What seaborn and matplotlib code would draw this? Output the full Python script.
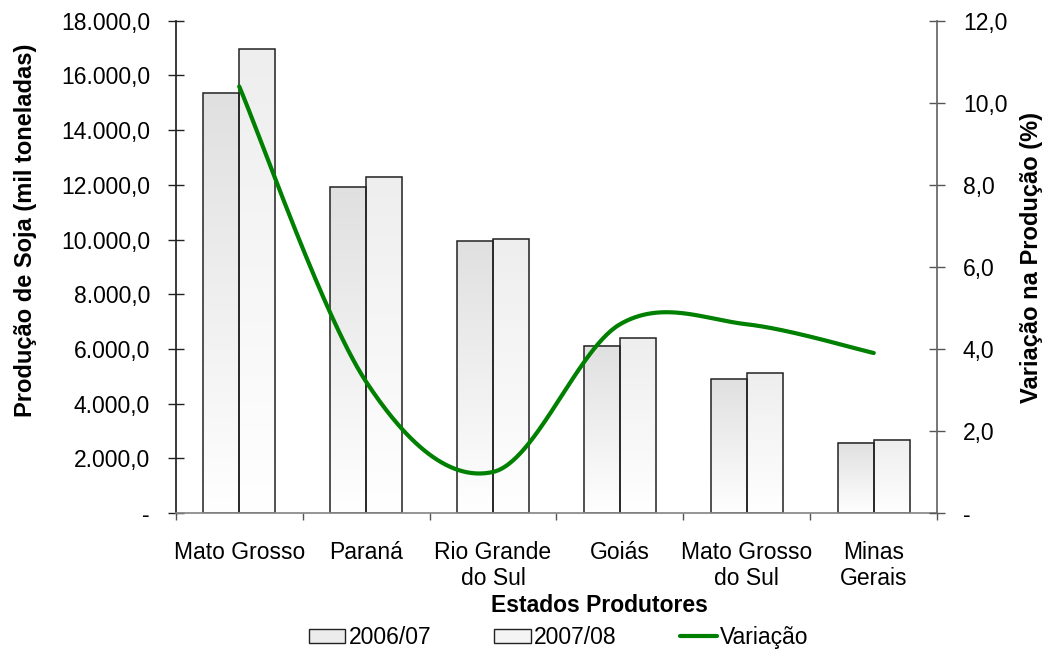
import numpy as np
import pandas as pd
import seaborn as sns
import matplotlib.pyplot as plt
from matplotlib.patches import Patch
from matplotlib.lines import Line2D
from matplotlib.ticker import FixedLocator, FuncFormatter

# data
estados = ["Mato Grosso", "Paraná", "Rio Grande\ndo Sul", "Goiás",
           "Mato Grosso\ndo Sul", "Minas\nGerais"]
safra_2006 = [15359, 11915, 9929, 6114, 4890, 2560]
safra_2007 = [16957, 12294, 10025, 6390, 5110, 2670]
variacao = [10.4, 3.2, 1.0, 4.6, 4.6, 3.9]

df = pd.DataFrame({
    "estado": estados * 2,
    "safra": ["2006/07"] * 6 + ["2007/08"] * 6,
    "producao": safra_2006 + safra_2007,
})

sns.set_theme(style="white")
plt.rcParams["font.family"] = ["Liberation Sans", "DejaVu Sans"]
plt.rcParams["text.color"] = "black"
plt.rcParams["axes.labelcolor"] = "black"

FS = 16.5

fig, ax = plt.subplots(figsize=(10.46, 6.49), dpi=100)
fig.subplots_adjust(left=0.168, right=0.896, top=0.968, bottom=0.2096)

sns.barplot(data=df, x="estado", y="producao", hue="safra", ax=ax,
            width=0.57, gap=0, legend=False, edgecolor="#222222",
            linewidth=1.1, palette=["#e2e2e2", "#efefef"], saturation=1)

# vertical gradient inside each bar (grey on top, white at the base)
tops = ["#e0e0e0", "#eeeeee"]
for cont, top in zip(ax.containers, tops):
    c = np.array(plt.matplotlib.colors.to_rgb(top))
    t = np.linspace(0, 1, 200)[:, None]
    grad = (c * (1 - t) + np.ones(3) * t)[:, None, :]
    for bar in cont:
        x0, w, h = bar.get_x(), bar.get_width(), bar.get_height()
        ax.imshow(grad, extent=[x0, x0 + w, 0, h], aspect="auto",
                  origin="upper", zorder=bar.get_zorder() - 0.1,
                  interpolation="bilinear")
        bar.set_facecolor("none")
ax.set_xlim(-0.5, 5.5)
ax.set_ylim(0, 18000)

def fmt_left(v, pos):
    if v == 0:
        return "-"
    return f"{v:,.1f}".replace(",", "X").replace(".", ",").replace("X", ".")

ax.yaxis.set_major_locator(FixedLocator(np.arange(0, 18001, 2000)))
ax.yaxis.set_major_formatter(FuncFormatter(fmt_left))
ax.tick_params(axis="y", direction="inout", length=11, width=1, colors="#222222",
               labelcolor="black", labelsize=FS, pad=13, left=True)
ax.xaxis.set_minor_locator(FixedLocator(np.arange(-0.5, 5.6, 1)))
ax.tick_params(axis="x", which="major", length=0, labelsize=FS, pad=20,
               labelcolor="black")
ax.tick_params(axis="x", which="minor", direction="out", length=5, width=1,
               color="#555555", bottom=True)

ax.set_xlabel("Estados Produtores", fontsize=FS, fontweight="bold", va="top")
ax.xaxis.set_label_coords(0.557, -0.1646)
ax.set_ylabel("Produção de Soja (mil toneladas)", fontsize=17,
              fontweight="bold")
ax.yaxis.set_label_coords(-0.1827, 0.575)

ax.spines["top"].set_visible(False)
ax.spines["right"].set_visible(False)
ax.spines["left"].set_color("#222222")
ax.spines["bottom"].set_color("#888888")
ax.grid(False)

# secondary axis with smoothed variation curve (Excel-style smoothing)
ax2 = ax.twinx()
xs = np.arange(len(variacao), dtype=float)
ys = np.array(variacao, dtype=float)
pts_x, pts_y = [], []
n = len(xs)
for i in range(n - 1):
    p0 = ys[i - 1] if i > 0 else ys[i]
    p3 = ys[i + 2] if i + 2 < n else ys[i + 1]
    x0m = xs[i - 1] if i > 0 else xs[i]
    x3 = xs[i + 2] if i + 2 < n else xs[i + 1]
    c1y = ys[i] + (ys[i + 1] - p0) / 6
    c2y = ys[i + 1] - (p3 - ys[i]) / 6
    c1x = xs[i] + (xs[i + 1] - x0m) / 6
    c2x = xs[i + 1] - (x3 - xs[i]) / 6
    t = np.linspace(0, 1, 60)
    b = [(1 - t) ** 3, 3 * (1 - t) ** 2 * t, 3 * (1 - t) * t ** 2, t ** 3]
    pts_x.extend(b[0] * xs[i] + b[1] * c1x + b[2] * c2x + b[3] * xs[i + 1])
    pts_y.extend(b[0] * ys[i] + b[1] * c1y + b[2] * c2y + b[3] * ys[i + 1])
ax2.plot(pts_x, pts_y, color="#008000", linewidth=3, solid_capstyle="round")
ax2.set_ylim(0, 12)
ax2.set_xlim(-0.5, 5.5)

def fmt_right(v, pos):
    if v == 0:
        return "-"
    return f"{v:.1f}".replace(".", ",")

ax2.yaxis.set_major_locator(FixedLocator(np.arange(0, 12.1, 2)))
ax2.yaxis.set_major_formatter(FuncFormatter(fmt_right))
ax2.tick_params(axis="y", direction="inout", length=11, width=1,
                colors="#555555", labelcolor="black", labelsize=FS, pad=13,
                right=True)
ax2.set_ylabel("Variação na Produção (%)", fontsize=17, fontweight="bold")
ax2.yaxis.set_label_coords(1.109, 0.52)
ax2.grid(False)
for s in ["top", "left", "bottom"]:
    ax2.spines[s].set_visible(False)
ax2.spines["right"].set_color("#666666")

handles = [
    Patch(facecolor="#ececec", edgecolor="#222222", linewidth=1),
    Patch(facecolor="#f4f4f4", edgecolor="#222222", linewidth=1),
    Line2D([0], [0], color="#008000", linewidth=3),
]
fig.legend(handles, ["2006/07", "2007/08", "Variação"], loc="center",
           bbox_to_anchor=(0.534, 0.018), ncol=3, frameon=False,
           fontsize=FS, handlelength=1.6, handleheight=0.55,
           handletextpad=0.15, columnspacing=2.75, borderaxespad=0,
           borderpad=0, labelcolor="black")

fig.savefig("out.png", dpi=100)
